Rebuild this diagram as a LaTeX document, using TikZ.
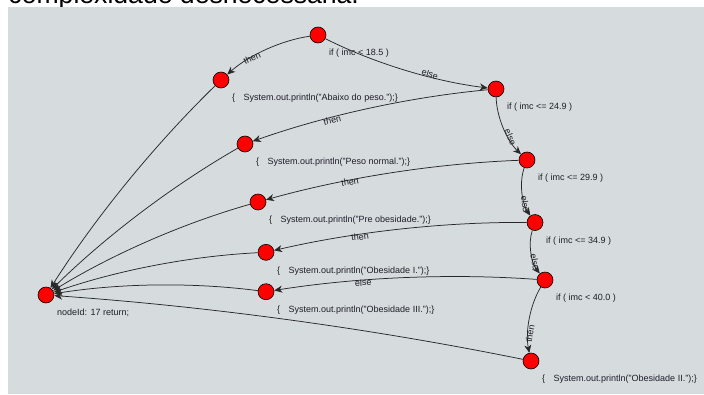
\documentclass[tikz,border=0pt]{standalone}
\usepackage{fontspec}
\setmainfont{Liberation Sans}
\usetikzlibrary{calc,arrows.meta}
\definecolor{panel}{RGB}{214,219,222}
\definecolor{edgec}{RGB}{40,40,40}
\definecolor{txtc}{RGB}{30,30,40}
\newcommand{\jungedge}[2]{%
  \coordinate (qc) at ($(#1)!0.5!(#2)!16pt!-90:(#2)$);
  \draw[edge] (#1) .. controls ($(#1)!0.6667!(qc)$) and ($(#2)!0.6667!(qc)$) .. (#2);%
}
\begin{document}
\begin{tikzpicture}[x=1pt,y=-1pt,
  vertex/.style={circle,draw=black,line width=0.6pt,fill=red,minimum size=16pt,inner sep=0pt},
  edge/.style={draw=edgec,line width=0.75pt,-{Stealth[length=8pt,width=7pt,inset=2.5pt]}},
  vlabel/.style={anchor=base west,inner sep=0pt,text=txtc,font=\fontsize{9}{10}\selectfont},
  elabel/.style={inner sep=0pt,text=txtc,text height=6.4pt,text depth=0pt,font=\fontsize{9}{10}\selectfont}]
\useasboundingbox (0,0) rectangle (704,394);
\clip (0,0) rectangle (704,394);
\fill[white] (0,0) rectangle (704,394);
\node[anchor=base west,inner sep=0pt,font=\fontsize{26.6}{30}\selectfont] (title) at (8.3,3.8) {complexidade desnecessária.};
\fill[panel] (8,7) rectangle (704,394);

\node[vertex] (v0) at (318,35) {};
\node[vertex] (v1) at (221,80) {};
\node[vertex] (v2) at (496,89) {};
\node[vertex] (v3) at (245,144) {};
\node[vertex] (v4) at (527,160) {};
\node[vertex] (v5) at (258,202) {};
\node[vertex] (v6) at (535,222.5) {};
\node[vertex] (v7) at (266,252.3) {};
\node[vertex] (v8) at (545,280) {};
\node[vertex] (v9) at (266,291.7) {};
\node[vertex] (v10) at (531,361) {};
\node[vertex] (v11) at (46,295) {};

\node[vlabel] (l0) at ($(v0)+(11,20.7)$) {if ( imc < 18.5 )};
\node[vlabel] (l1) at ($(v1)+(11,20.7)$) {\{\hspace{8.5pt}System.out.println("Abaixo do peso.");\}};
\node[vlabel] (l2) at ($(v2)+(11,20.7)$) {if ( imc <= 24.9 )};
\node[vlabel] (l3) at ($(v3)+(11,20.7)$) {\{\hspace{8.5pt}System.out.println("Peso normal.");\}};
\node[vlabel] (l4) at ($(v4)+(11,20.7)$) {if ( imc <= 29.9 )};
\node[vlabel] (l5) at ($(v5)+(11,20.7)$) {\{\hspace{8.5pt}System.out.println("Pre obesidade.");\}};
\node[vlabel] (l6) at ($(v6)+(11,20.7)$) {if ( imc <= 34.9 )};
\node[vlabel] (l7) at ($(v7)+(11,20.7)$) {\{\hspace{8.5pt}System.out.println("Obesidade I.");\}};
\node[vlabel] (l8) at ($(v8)+(11,20.7)$) {if ( imc < 40.0 )};
\node[vlabel] (l9) at ($(v9)+(11,20.7)$) {\{\hspace{8.5pt}System.out.println("Obesidade III.");\}};
\node[vlabel] (l10) at ($(v10)+(11,20.7)$) {\{\hspace{8.5pt}System.out.println("Obesidade II.");\}};
\node[vlabel] (l11) at ($(v11)+(11,20.7)$) {nodeId: 17 return;};

\jungedge{v0}{v1}
\jungedge{v0}{v2}
\jungedge{v2}{v3}
\jungedge{v2}{v4}
\jungedge{v4}{v5}
\jungedge{v4}{v6}
\jungedge{v6}{v7}
\jungedge{v6}{v8}
\jungedge{v8}{v9}
\jungedge{v8}{v10}
\jungedge{v1}{v11}
\jungedge{v3}{v11}
\jungedge{v5}{v11}
\jungedge{v7}{v11}
\jungedge{v9}{v11}
\jungedge{v10}{v11}

\node[elabel,rotate=24.9] (e01) at (252,58.3) {then};
\node[elabel,rotate=-16.9] (e02) at (430,74) {else};
\node[elabel,rotate=12.4] (e23) at (332.3,120) {then};
\node[elabel,rotate=-66.4] (e24) at (510.5,137) {else};
\node[elabel,rotate=8.9] (e45) at (350,181.7) {then};
\node[elabel,rotate=-82.7] (e46) at (525.3,204) {else};
\node[elabel,rotate=6.3] (e67) at (360,236.7) {then};
\node[elabel,rotate=-80.1] (e68) at (535,261.7) {else};
\node[elabel,rotate=2.4] (e89) at (363.3,282.7) {else};
\node[elabel,rotate=80.2] (e810) at (530,333.3) {then};
\end{tikzpicture}
\end{document}
